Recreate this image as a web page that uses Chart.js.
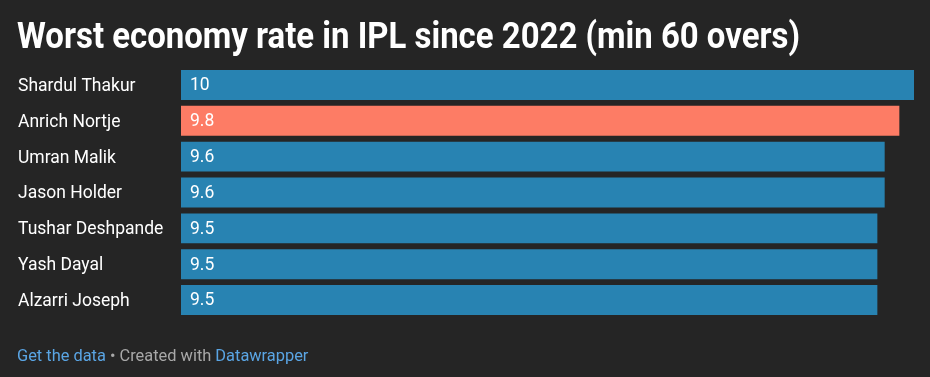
<!DOCTYPE html>
<html>
<head>
<meta charset="utf-8">
<script src="https://cdn.jsdelivr.net/npm/chart.js@4"></script>
<style>
	html, body { margin: 0; padding: 0; background: #252525; }
	#wrap { position: relative; width: 930px; height: 377px; overflow: hidden; }
	#chart { position: absolute; left: 0; top: 0; }
	#title {
		position: absolute; left: 17px; top: 15px;
		font-family: Roboto, sans-serif; font-weight: bold; font-size: 36px;
		color: #ffffff; white-space: nowrap; transform-origin: 0 0;
	}
	#footer {
		position: absolute; left: 17px; top: 346px;
		font-family: Roboto, sans-serif; font-size: 16.4px; color: #a8a8a8; white-space: nowrap;
	}
	#footer a { color: #5aa5e4; text-decoration: none; }
</style>
</head>
<body>
<div id="wrap">
	<canvas id="chart" width="930" height="377"></canvas>
	<div id="title">Worst economy rate in IPL since 2022 (min 60 overs)</div>
	<div id="footer"><a>Get the data</a> • Created with <a>Datawrapper</a></div>
</div>
<script>
const players = ['Shardul Thakur', 'Anrich Nortje', 'Umran Malik', 'Jason Holder', 'Tushar Deshpande', 'Yash Dayal', 'Alzarri Joseph'];
const economy = [10, 9.8, 9.6, 9.6, 9.5, 9.5, 9.5];
const highlight = 'Anrich Nortje';

// squeeze the title to the reference width
const title = document.getElementById('title');
const tw = title.getBoundingClientRect().width;
title.style.transform = 'scaleX(' + (783 / tw) + ')';

const valueLabels = {
	id: 'valueLabels',
	afterDatasetsDraw(chart) {
		const ctx = chart.ctx;
		const meta = chart.getDatasetMeta(0);
		ctx.save();
		ctx.fillStyle = '#ffffff';
		ctx.font = '17.5px Roboto';
		ctx.textAlign = 'left';
		ctx.textBaseline = 'middle';
		meta.data.forEach(function (bar, i) {
			ctx.fillText(String(economy[i]), bar.base + 9, bar.y + 1);
		});
		ctx.restore();
	}
};

const config_bars = {
	type: 'bar',
	data: {
		labels: players,
		datasets: [{
			data: economy,
			backgroundColor: players.map(p => p === highlight ? '#fd7c65' : '#2883b2'),
			borderWidth: 0,
			barPercentage: 0.835,
			categoryPercentage: 1
		}]
	},
	options: {
		indexAxis: 'y',
		responsive: false,
		animation: false,
		events: [],
		layout: {
			padding: { left: 18, right: 16, top: 67, bottom: 59 }
		},
		plugins: {
			legend: { display: false },
			tooltip: { enabled: false }
		},
		scales: {
			x: {
				type: 'linear',
				min: 0,
				max: 10,
				display: false
			},
			y: {
				grid: { display: false },
				border: { display: false },
				ticks: {
					color: '#ffffff',
					font: { family: 'Roboto', size: 17.5 },
					crossAlign: 'far',
					padding: 0,
					labelOffset: 1.5
				},
				afterFit(scale) {
					scale.width = 163;
				}
			}
		}
	},
	plugins: [valueLabels]
};

const bars = new Chart(document.getElementById('chart'), config_bars);
</script>
</body>
</html>
